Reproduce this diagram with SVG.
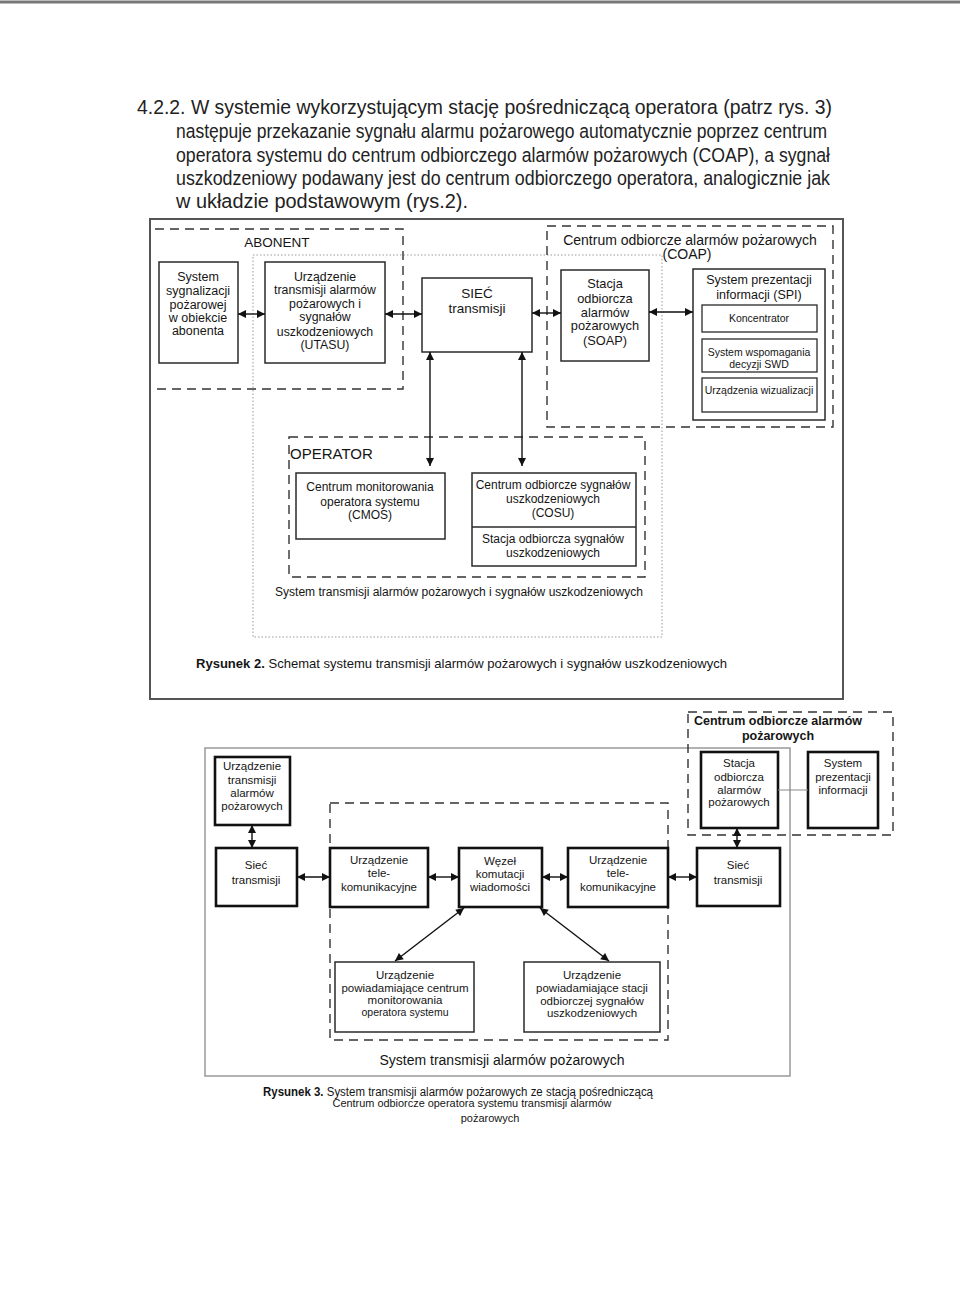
<svg xmlns="http://www.w3.org/2000/svg" width="960" height="1307" viewBox="0 0 960 1307">
<defs>
<style>
.t{font-family:"Liberation Sans",Arial,sans-serif;fill:#151515}
.c{text-anchor:middle;dominant-baseline:central}
.l{dominant-baseline:central}
.p{font-family:"Liberation Sans",Arial,sans-serif;fill:#222;font-size:20.5px}
.bx{fill:#fff;stroke:#2a2a2a;stroke-width:1.5}
.ib{fill:#fff;stroke:#2a2a2a;stroke-width:1.3}
.tb{fill:#fff;stroke:#111;stroke-width:2.6}
.d{fill:none;stroke:#333;stroke-width:1.4;stroke-dasharray:9 6}
.dot{fill:none;stroke:#999;stroke-width:1;stroke-dasharray:1.5 2}
.fr{fill:none;stroke:#555;stroke-width:2}
.gf{fill:none;stroke:#999;stroke-width:1.5}
.a{fill:none;stroke:#111;stroke-width:1.4;marker-start:url(#ah);marker-end:url(#ah)}
</style>
<marker id="ah" viewBox="0 0 10 10" refX="10" refY="5" markerWidth="9" markerHeight="8" markerUnits="userSpaceOnUse" orient="auto-start-reverse">
<path d="M0,0 L10,5 L0,10 z" fill="#111"/>
</marker>
</defs>
<rect x="0" y="0" width="960" height="1307" fill="#fff"/>
<line x1="0" y1="2" x2="960" y2="2" stroke="#777" stroke-width="3"/>

<g id="paragraph">
<text class="p" x="137" y="114" textLength="695" lengthAdjust="spacingAndGlyphs">4.2.2. W systemie wykorzystującym stację pośredniczącą operatora (patrz rys. 3)</text>
<text class="p" x="176" y="138" textLength="651" lengthAdjust="spacingAndGlyphs">następuje przekazanie sygnału alarmu pożarowego automatycznie poprzez centrum</text>
<text class="p" x="176" y="162" textLength="654" lengthAdjust="spacingAndGlyphs">operatora systemu do centrum odbiorczego alarmów pożarowych (COAP), a sygnał</text>
<text class="p" x="176" y="185" textLength="654" lengthAdjust="spacingAndGlyphs">uszkodzeniowy podawany jest do centrum odbiorczego operatora, analogicznie jak</text>
<text class="p" x="176" y="208" textLength="292" lengthAdjust="spacingAndGlyphs">w układzie podstawowym (rys.2).</text>
</g>

<!-- Figure 2 -->
<g id="fig2-frame"><rect class="fr" x="150" y="219" width="693" height="480"/></g>
<g id="fig2-system-scope"><rect class="dot" x="253" y="255" width="409" height="382"/>
<text class="t c" x="459" y="592" font-size="12" textLength="368" lengthAdjust="spacingAndGlyphs">System transmisji alarmów pożarowych i sygnałów uszkodzeniowych</text></g>
<g id="abonent"><path class="d" d="M155,229 H403 V389 H155"/>
<text class="t c" x="277" y="242" font-size="13.5">ABONENT</text></g>
<g id="coap"><rect class="d" x="547" y="226" width="286" height="201"/>
<text class="t c" x="690" y="240" font-size="14">Centrum odbiorcze alarmów pożarowych</text>
<text class="t c" x="687" y="254" font-size="14">(COAP)</text></g>
<g id="operator"><rect class="d" x="289" y="437" width="356" height="140"/>
<text class="t l" x="290" y="453" font-size="15">OPERATOR</text></g>

<g id="ssp"><rect class="bx" x="159" y="262" width="79" height="101"/>
<text class="t c" font-size="12.5"><tspan x="198" y="277">System</tspan><tspan x="198" y="291">sygnalizacji</tspan><tspan x="198" y="305">pożarowej</tspan><tspan x="198" y="318">w obiekcie</tspan><tspan x="198" y="331">abonenta</tspan></text></g>
<g id="utasu"><rect class="bx" x="265" y="262" width="120" height="101"/>
<text class="t c" font-size="12.3"><tspan x="325" y="277">Urządzenie</tspan><tspan x="325" y="290">transmisji alarmów</tspan><tspan x="325" y="304">pożarowych  i</tspan><tspan x="325" y="317">sygnałów</tspan><tspan x="325" y="332">uszkodzeniowych</tspan><tspan x="325" y="345">(UTASU)</tspan></text></g>
<g id="siec"><rect class="bx" x="422" y="278" width="110" height="74"/>
<text class="t c" font-size="13.5"><tspan x="477" y="293">SIEĆ</tspan><tspan x="477" y="308">transmisji</tspan></text></g>
<g id="soap"><rect class="bx" x="561" y="270" width="88" height="91"/>
<text class="t c" font-size="12.8"><tspan x="605" y="283">Stacja</tspan><tspan x="605" y="298">odbiorcza</tspan><tspan x="605" y="312">alarmów</tspan><tspan x="605" y="325">pożarowych</tspan><tspan x="605" y="340">(SOAP)</tspan></text></g>
<g id="spi"><rect class="bx" x="693" y="269" width="132" height="151"/>
<text class="t c" font-size="12.5"><tspan x="759" y="280">System prezentacji</tspan><tspan x="759" y="295">informacji (SPI)</tspan></text></g>
<g id="koncentrator"><rect class="ib" x="702" y="305" width="115" height="27"/>
<text class="t c" x="759" y="318" font-size="10.5">Koncentrator</text></g>
<g id="swd"><rect class="ib" x="702" y="339" width="115" height="33"/>
<text class="t c" font-size="10.5"><tspan x="759" y="352">System wspomagania</tspan><tspan x="759" y="364">decyzji SWD</tspan></text></g>
<g id="wizualizacja"><rect class="ib" x="702" y="378" width="115" height="34"/>
<text class="t c" x="759" y="390" font-size="10.5">Urządzenia wizualizacji</text></g>
<g id="cmos"><rect class="bx" x="296" y="473" width="149" height="66"/>
<text class="t c" font-size="12"><tspan x="370" y="487">Centrum monitorowania</tspan><tspan x="370" y="502">operatora systemu</tspan><tspan x="370" y="515">(CMOS)</tspan></text></g>
<g id="cosu"><rect class="bx" x="472" y="473" width="164" height="93"/><line x1="472" y1="527" x2="636" y2="527" stroke="#2a2a2a" stroke-width="1.5"/>
<text class="t c" font-size="12"><tspan x="553" y="485">Centrum odbiorcze sygnałów</tspan><tspan x="553" y="499">uszkodzeniowych</tspan><tspan x="553" y="513">(COSU)</tspan><tspan x="553" y="539">Stacja odbiorcza sygnałów</tspan><tspan x="553" y="553">uszkodzeniowych</tspan></text></g>

<g id="fig2-connectors">
<line class="a" x1="238" y1="314" x2="265" y2="314"/>
<line class="a" x1="385" y1="314" x2="422" y2="314"/>
<line class="a" x1="532" y1="313" x2="561" y2="313"/>
<line class="a" x1="649" y1="312" x2="693" y2="312"/>
<line class="a" x1="430" y1="352" x2="430" y2="466"/>
<line class="a" x1="522" y1="352" x2="522" y2="466"/>
</g>
<g id="caption2"><text class="t l" x="196" y="663" font-size="13" textLength="531" lengthAdjust="spacingAndGlyphs"><tspan font-weight="bold">Rysunek 2.</tspan> Schemat systemu transmisji alarmów pożarowych i sygnałów uszkodzeniowych</text></g>

<!-- Figure 3 -->
<g id="fig3-frame"><rect class="gf" x="205" y="748" width="585" height="328"/></g>
<g id="fig3-telecom-scope"><rect class="d" x="330" y="803" width="338" height="237"/>
<text class="t c" x="502" y="1060" font-size="14">System transmisji alarmów pożarowych</text></g>
<g id="centrum-odbiorcze"><rect class="d" x="688" y="712" width="205" height="123"/>
<text class="t c" font-size="12.5" font-weight="bold"><tspan x="778" y="721">Centrum odbiorcze alarmów</tspan><tspan x="778" y="736">pożarowych</tspan></text></g>

<g id="f3-utap"><rect class="tb" x="215" y="757" width="75" height="68"/>
<text class="t c" font-size="11.5"><tspan x="252" y="766">Urządzenie</tspan><tspan x="252" y="780">transmisji</tspan><tspan x="252" y="793">alarmów</tspan><tspan x="252" y="806">pożarowych</tspan></text></g>
<g id="f3-stacja"><rect class="tb" x="701" y="752" width="77" height="76"/>
<text class="t c" font-size="11.5"><tspan x="739" y="763">Stacja</tspan><tspan x="739" y="777">odbiorcza</tspan><tspan x="739" y="790">alarmów</tspan><tspan x="739" y="802">pożarowych</tspan></text></g>
<g id="f3-spi"><rect class="tb" x="808" y="752" width="70" height="76"/>
<text class="t c" font-size="11.5"><tspan x="843" y="763">System</tspan><tspan x="843" y="777">prezentacji</tspan><tspan x="843" y="790">informacji</tspan></text></g>
<g id="f3-siec1"><rect class="tb" x="216" y="848" width="81" height="58"/>
<text class="t c" font-size="11.5"><tspan x="256" y="865">Sieć</tspan><tspan x="256" y="880">transmisji</tspan></text></g>
<g id="f3-tele1"><rect class="tb" x="330" y="848" width="98" height="59"/>
<text class="t c" font-size="11.5"><tspan x="379" y="860">Urządzenie</tspan><tspan x="379" y="873">tele-</tspan><tspan x="379" y="887">komunikacyjne</tspan></text></g>
<g id="f3-wezel"><rect class="tb" x="459" y="848" width="83" height="59"/>
<text class="t c" font-size="11.5"><tspan x="500" y="861">Węzeł</tspan><tspan x="500" y="874">komutacji</tspan><tspan x="500" y="887">wiadomości</tspan></text></g>
<g id="f3-tele2"><rect class="tb" x="568" y="848" width="100" height="59"/>
<text class="t c" font-size="11.5"><tspan x="618" y="860">Urządzenie</tspan><tspan x="618" y="873">tele-</tspan><tspan x="618" y="887">komunikacyjne</tspan></text></g>
<g id="f3-siec2"><rect class="tb" x="697" y="848" width="83" height="58"/>
<text class="t c" font-size="11.5"><tspan x="738" y="865">Sieć</tspan><tspan x="738" y="880">transmisji</tspan></text></g>
<g id="f3-pow1"><rect class="bx" x="335" y="962" width="139" height="70"/>
<text class="t c" font-size="11.5"><tspan x="405" y="975">Urządzenie</tspan><tspan x="405" y="988">powiadamiające  centrum</tspan><tspan x="405" y="1000">monitorowania</tspan><tspan x="405" y="1012" font-size="10.5">operatora systemu</tspan></text></g>
<g id="f3-pow2"><rect class="bx" x="524" y="962" width="136" height="70"/>
<text class="t c" font-size="11.5"><tspan x="592" y="975">Urządzenie</tspan><tspan x="592" y="988">powiadamiające stacji</tspan><tspan x="592" y="1001">odbiorczej sygnałów</tspan><tspan x="592" y="1013">uszkodzeniowych</tspan></text></g>

<g id="fig3-connectors">
<line x1="778" y1="790" x2="808" y2="790" stroke="#888" stroke-width="1"/>
<line class="a" x1="252" y1="825" x2="252" y2="848"/>
<line class="a" x1="737" y1="828" x2="737" y2="848"/>
<line class="a" x1="297" y1="877" x2="330" y2="877"/>
<line class="a" x1="428" y1="877" x2="459" y2="877"/>
<line class="a" x1="542" y1="877" x2="568" y2="877"/>
<line class="a" x1="668" y1="877" x2="697" y2="877"/>
<line class="a" x1="464" y1="908" x2="395" y2="961"/>
<line class="a" x1="540" y1="908" x2="609" y2="961"/>
</g>
<g id="caption3">
<text class="t l" x="263" y="1092" font-size="12" textLength="390" lengthAdjust="spacingAndGlyphs"><tspan font-weight="bold">Rysunek 3.</tspan> System transmisji alarmów pożarowych ze stacją pośredniczącą</text>
<text class="t c" x="472" y="1103" font-size="11" textLength="279" lengthAdjust="spacingAndGlyphs">Centrum odbiorcze operatora systemu transmisji alarmów</text>
<text class="t c" x="490" y="1118" font-size="11">pożarowych</text>
</g>
</svg>
